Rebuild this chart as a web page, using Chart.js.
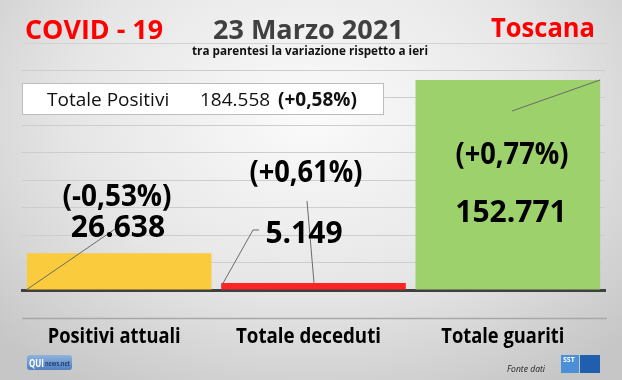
<!DOCTYPE html>
<html>
<head>
<meta charset="utf-8">
<script src="https://cdn.jsdelivr.net/npm/chart.js@4"></script>
<style>
  html, body { margin: 0; padding: 0; }
  body {
    width: 622px; height: 380px; overflow: hidden;
    background: radial-gradient(ellipse 70% 85% at 50% 30%, #fbfbfb 0%, #e6e6e6 55%, #c6c6c6 100%);
  }
  #wrap { width: 622px; height: 380px; position: relative; }
</style>
</head>
<body>
<div id="wrap"><canvas id="covidChart"></canvas></div>
<script>
const categories = ["Positivi attuali", "Totale deceduti", "Totale guariti"];
const values = [26638, 5149, 152771];
const changes = [-0.53, 0.61, 0.77];
const barColors = ["#FACB3C", "#FF2424", "#9CD16C"];
const totalPositivi = 184558;
const totalChange = 0.58;
const yMax = 160000;
const yStep = 20000;

const FONT = "'Open Sans', 'Noto Sans', sans-serif";

function fmtNum(n) {
  return String(n).replace(/\B(?=(\d{3})+(?!\d))/g, ".");
}

function fmtPct(p) {
  const s = (p >= 0 ? "+" : "-") + Math.abs(p).toFixed(2).replace(".", ",");
  return "(" + s + "%)";
}

function text(ctx, str, x, y, size, weight, color, align, maxW, style) {
  ctx.save();
  ctx.font = (style || "normal") + " " + weight + " " + size + "px " + FONT;
  ctx.fillStyle = color;
  ctx.textAlign = align || "left";
  ctx.textBaseline = "alphabetic";
  if (maxW) ctx.fillText(str, x, y, maxW);
  else ctx.fillText(str, x, y);
  ctx.restore();
}

function line(ctx, pts, color, w) {
  ctx.save();
  ctx.strokeStyle = color;
  ctx.lineWidth = w || 1;
  ctx.beginPath();
  pts.forEach((p, i) => i ? ctx.lineTo(p[0], p[1]) : ctx.moveTo(p[0], p[1]));
  ctx.stroke();
  ctx.restore();
}

const decorPlugin = {
  id: "decor",
  afterDraw(chart) {
    const ctx = chart.ctx;
    const area = chart.chartArea;
    const bars = chart.getDatasetMeta(0).data;

    // header
    text(ctx, "COVID - 19", 25, 39, 27, "bold", "#FF0000", "left", 138);
    text(ctx, "23 Marzo 2021", 213, 39, 27, "bold", "#404040", "left", 193);
    text(ctx, "Toscana", 491, 37, 27, "bold", "#FF0000", "left", 104);
    line(ctx, [[23, 43.5], [607, 43.5]], "#d2d2d2", 1);
    text(ctx, "tra parentesi la variazione rispetto a ieri", 192, 55, 12, "bold", "#111", "left", 236);

    // totale positivi box
    ctx.save();
    ctx.fillStyle = "#ffffff";
    ctx.fillRect(22, 83, 361, 31);
    ctx.strokeStyle = "#bdbdbd";
    ctx.lineWidth = 1;
    ctx.strokeRect(22.5, 83.5, 361, 31);
    ctx.restore();
    text(ctx, "Totale Positivi", 47, 106, 19, "normal", "#111", "left", 126);
    text(ctx, fmtNum(totalPositivi), 200, 106, 19, "normal", "#111", "left", 72);
    text(ctx, fmtPct(totalChange), 278, 106, 19, "bold", "#111", "left", 79);

    // leader lines
    const b0 = bars[0], b1 = bars[1], b2 = bars[2];
    line(ctx, [[b0.x - b0.width / 2, b0.base], [118, 227]], "#6a6a6a", 1);
    line(ctx, [[259, 230], [253, 230], [b1.x - b1.width / 2, b1.base - 3]], "#6a6a6a", 1);
    line(ctx, [[307, 201], [314, b1.y]], "#6a6a6a", 1);
    line(ctx, [[512, 111], [b2.x + b2.width / 2, b2.y]], "#6a6a6a", 1);

    // value labels
    const pctPos = [[117, 206], [306, 182], [512, 164]];
    const valPos = [[118, 237], [304, 243], [511, 222]];
    const pctW = [109, 113, 113];
    const valW = [97, 78, 113];
    values.forEach((v, i) => {
      text(ctx, fmtPct(changes[i]), pctPos[i][0], pctPos[i][1], 30, "bold", "#000", "center", pctW[i]);
      text(ctx, fmtNum(v), valPos[i][0], valPos[i][1], 30, "bold", "#000", "center", valW[i]);
    });

    // bottom separator + category labels
    line(ctx, [[22, 318.5], [607, 318.5]], "#a8a8a8", 1.5);
    const xs = chart.scales.x;
    const catW = [133, 145, 123];
    categories.forEach((c, i) => {
      text(ctx, c, xs.getPixelForValue(i) - 5, 343, 22, "bold", "#000", "center", catW[i]);
    });

    // QUInews logo
    ctx.save();
    const g = ctx.createLinearGradient(0, 355, 0, 370);
    g.addColorStop(0, "#8fb3dc");
    g.addColorStop(1, "#4f7fbf");
    ctx.fillStyle = g;
    ctx.beginPath();
    ctx.roundRect(27, 355, 45, 15, 3);
    ctx.fill();
    ctx.restore();
    text(ctx, "QUI", 29, 367, 11, "bold", "#ffffff", "left", 15);
    text(ctx, "news.net", 45, 366, 7, "bold", "#1f3f70", "left", 25);

    // fonte dati + SST logo
    text(ctx, "Fonte dati", 507, 372, 9, "normal", "#222", "left", 38, "italic");
    ctx.save();
    ctx.fillStyle = "#4a90d9";
    ctx.fillRect(561, 355, 18, 18);
    ctx.fillStyle = "#1f5fae";
    ctx.fillRect(580, 355, 20, 18);
    ctx.restore();
    text(ctx, "SST", 563, 362, 7, "bold", "#ffffff", "left", 14);
  }
};

new Chart(document.getElementById("covidChart"), {
  type: "bar",
  data: {
    labels: categories,
    datasets: [{
      data: values,
      backgroundColor: barColors,
      borderWidth: 0,
      barPercentage: 0.95,
      categoryPercentage: 1
    }]
  },
  options: {
    responsive: true,
    maintainAspectRatio: false,
    animation: false,
    layout: {
      padding: { left: 22, right: 17, top: 70, bottom: 90 }
    },
    plugins: {
      legend: { display: false },
      tooltip: { enabled: false }
    },
    scales: {
      x: {
        ticks: { display: false },
        grid: { display: false, drawTicks: false },
        border: { display: true, color: "#404040", width: 3 }
      },
      y: {
        min: 0,
        max: yMax,
        ticks: { display: false, stepSize: yStep },
        grid: { color: "#cdcdcd", lineWidth: 1, drawTicks: false },
        border: { display: false }
      }
    }
  },
  plugins: [decorPlugin]
});
</script>
</body>
</html>
